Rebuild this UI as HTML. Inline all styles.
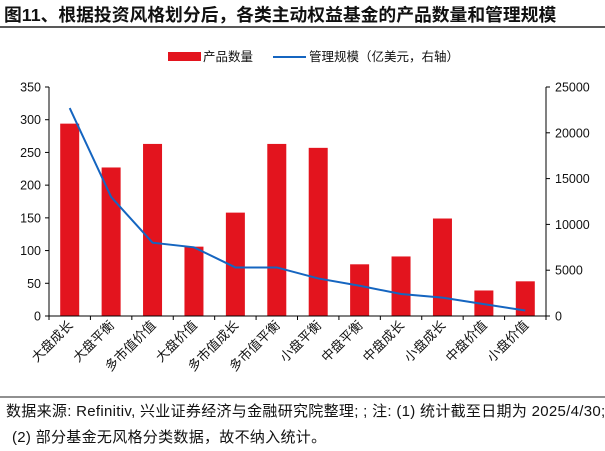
<!DOCTYPE html>
<html><head><meta charset="utf-8"><style>
body{margin:0;width:605px;height:446px;background:#fff;overflow:hidden;font-family:"Liberation Sans","Noto Sans CJK SC",sans-serif;}
svg text{font-family:"Liberation Sans","Noto Sans CJK SC",sans-serif;}
</style></head><body>
<svg id="c" width="605" height="446">
<text x="4" y="21" font-size="17.8" font-weight="bold" fill="#111">图11、根据投资风格划分后，各类主动权益基金的产品数量和管理规模</text>
<line x1="0" y1="27" x2="605" y2="27" stroke="#222" stroke-width="1.5"/>
<rect x="168" y="52" width="33" height="9" fill="#e3141e"/>
<text x="203" y="61" font-size="12.5" fill="#111">产品数量</text>
<line x1="273" y1="57" x2="306" y2="57" stroke="#1565c0" stroke-width="2"/>
<text x="309" y="61" font-size="12.5" fill="#111">管理规模（亿美元，右轴）</text>
<g id="plot"></g>
<line x1="0" y1="397" x2="605" y2="397" stroke="#222" stroke-width="1"/>
<text x="6" y="416" font-size="15" letter-spacing="0.3" fill="#111">数据来源: Refinitiv, 兴业证券经济与金融研究院整理; ; 注: (1) 统计截至日期为 2025/4/30;</text>
<text x="12" y="442" font-size="15" letter-spacing="0.3" fill="#111">(2) 部分基金无风格分类数据，故不纳入统计。</text>
</svg>
<script>
const categories=["大盘成长","大盘平衡","多市值价值","大盘价值","多市值成长","多市值平衡","小盘平衡","中盘平衡","中盘成长","小盘成长","中盘价值","小盘价值"];
const counts=[294,227,263,106,158,263,257,79,91,149,39,53];
const aum=[22700,13000,8000,7500,5300,5300,4100,3300,2400,2000,1300,600];
const leftTicks=[0,50,100,150,200,250,300,350];
const rightTicks=[0,5000,10000,15000,20000,25000];
const NS="http://www.w3.org/2000/svg";
const g=document.getElementById('plot');
const X0=49,X1=546,Y0=316,Y1=87;
const bw=(X1-X0)/categories.length;
const xc=i=>X0+bw*(i+0.5);
const yl=v=>Y0-(Y0-Y1)*v/350;
const yr=v=>Y0-(Y0-Y1)*v/25000;
function el(t,a){const e=document.createElementNS(NS,t);for(const k in a)e.setAttribute(k,a[k]);g.appendChild(e);return e;}
counts.forEach((v,i)=>{const r=el('rect',{x:xc(i)-9.5,y:yl(v),width:19,height:Y0-yl(v),fill:'#e3141e'});

});
let ax=el('line',{x1:X0,y1:Y1,x2:X0,y2:Y0,stroke:'#000'});


ax=el('line',{x1:X1,y1:Y1,x2:X1,y2:Y0,stroke:'#000'});


ax=el('line',{x1:X0,y1:Y0,x2:X1,y2:Y0,stroke:'#000'});


leftTicks.forEach(v=>{el('line',{x1:X0-4,y1:yl(v),x2:X0,y2:yl(v),stroke:'#000'});
const t=el('text',{x:X0-8,y:yl(v)+4.5,'font-size':12.5,'text-anchor':'end',fill:'#111'});t.textContent=v;

});
rightTicks.forEach(v=>{el('line',{x1:X1,y1:yr(v),x2:X1+4,y2:yr(v),stroke:'#000'});
const t=el('text',{x:X1+9,y:yr(v)+4.5,'font-size':12.5,fill:'#111'});t.textContent=v;

});
for(let i=0;i<=categories.length;i++)el('line',{x1:X0+bw*i,y1:Y0,x2:X0+bw*i,y2:Y0+4,stroke:'#000'});
categories.forEach((c,i)=>{const t=el('text',{x:xc(i)+4,y:Y0+10,'font-size':13,'text-anchor':'end',fill:'#111',transform:`rotate(-45 ${xc(i)+4} ${Y0+10})`});t.textContent=c;

});
const p=el('polyline',{points:aum.map((v,i)=>xc(i)+','+yr(v)).join(' '),fill:'none',stroke:'#1565c0','stroke-width':2});


</script>
</body></html>
